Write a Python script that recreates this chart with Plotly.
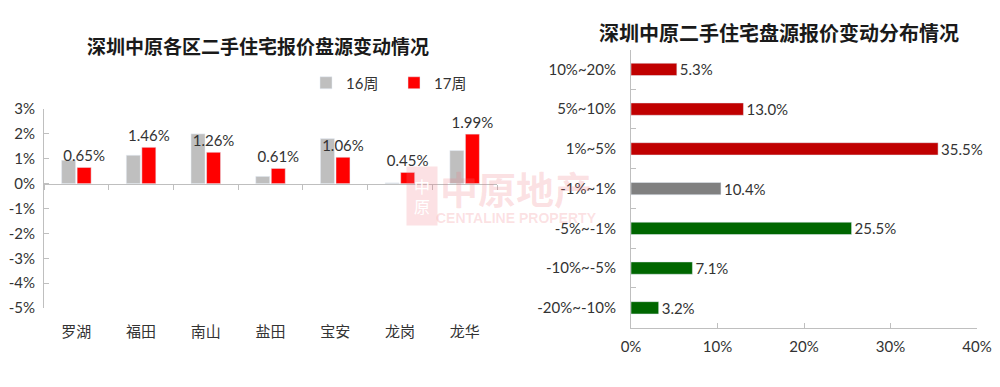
import plotly.graph_objects as go

# Left chart data
districts = ["罗湖", "福田", "南山", "盐田", "宝安", "龙岗", "龙华"]
week16 = [0.94, 1.14, 2.00, 0.29, 1.81, 0.03, 1.33]
week17 = [0.65, 1.46, 1.26, 0.61, 1.06, 0.45, 1.99]
left_ticks = [-5, -4, -3, -2, -1, 0, 1, 2, 3]

# Right chart data
ranges = ["10%~20%", "5%~10%", "1%~5%", "-1%~1%", "-5%~-1%", "-10%~-5%", "-20%~-10%"]
shares = [5.3, 13.0, 35.5, 10.4, 25.5, 7.1, 3.2]
range_colors = ["#C00000", "#C00000", "#C00000", "#808080", "#006600", "#006600", "#006600"]
right_ticks = [0, 10, 20, 30, 40]

FONT = "Century Gothic, Lato, Noto Sans CJK SC, sans-serif"
CJK = "Noto Sans CJK SC, sans-serif"
AX = "#BFBFBF"
TXT = "#333333"

# page body has an 8px margin: convert target pixel positions into paper fractions
W, H, OFF = 1000, 387, 8
def px(x):
    return (x - OFF) / W
def py(y):
    return (H + OFF - y) / H

fig = go.Figure()

fig.add_trace(go.Bar(name="16周", x=districts, y=week16, marker_color="#BFBFBF",
                     xaxis="x", yaxis="y", hoverinfo="skip"))
fig.add_trace(go.Bar(name="17周", x=districts, y=week17, marker_color="#FF0000",
                     xaxis="x", yaxis="y", text=week17, texttemplate="%{y:.2f}%",
                     textposition="outside", cliponaxis=False, constraintext="none",
                     textfont=dict(family=FONT, size=15, color=TXT), hoverinfo="skip"))
# helper invisible trace for the zero-line category axis
fig.add_trace(go.Scatter(x=districts, y=[0] * len(districts), xaxis="x3", yaxis="y",
                         mode="lines", line=dict(width=0), opacity=0,
                         showlegend=False, hoverinfo="skip"))

fig.add_trace(go.Bar(x=shares, y=ranges, orientation="h", marker_color=range_colors,
                     xaxis="x2", yaxis="y2", text=shares, texttemplate="%{x:.1f}%",
                     textposition="outside", cliponaxis=False, constraintext="none",
                     showlegend=False, width=0.31,
                     textfont=dict(family=FONT, size=15, color=TXT), hoverinfo="skip"))

ydom = [py(308), py(109)]
zero_pos = ydom[0] + (0 - left_ticks[0]) / (left_ticks[-1] - left_ticks[0]) * (ydom[1] - ydom[0])

fig.update_layout(
    width=W, height=H,
    margin=dict(l=0, r=0, t=0, b=0, autoexpand=False),
    paper_bgcolor="white", plot_bgcolor="rgba(0,0,0,0)",
    barmode="group", bargap=0.52, bargroupgap=0.1,
    font=dict(family=FONT, color=TXT),
    showlegend=True,
    legend=dict(orientation="h", x=px(306), y=py(83), xanchor="left", yanchor="middle",
                entrywidth=43, entrywidthmode="pixels",
                font=dict(family=FONT, size=15, color=TXT), bgcolor="rgba(0,0,0,0)"),
    xaxis=dict(domain=[px(44), px(497)], anchor="y", type="category", automargin=False,
               showline=False, ticks="", showgrid=False,
               tickfont=dict(family=CJK, size=15, color=TXT), ticklabelstandoff=13),
    xaxis3=dict(domain=[px(44), px(497)], anchor="free", overlaying="x", position=zero_pos,
                type="category", showline=True, linecolor=AX, linewidth=1, automargin=False,
                ticks="outside", tickson="boundaries", ticklen=5, tickcolor=AX,
                showticklabels=False, showgrid=False, matches="x"),
    yaxis=dict(domain=ydom, anchor="x", range=[left_ticks[0], left_ticks[-1]], automargin=False,
               tickvals=left_ticks, ticktext=[f"{v}%" for v in left_ticks],
               showline=True, linecolor=AX,
               ticks="inside", ticklen=5, tickcolor=AX, showgrid=False, zeroline=False,
               tickfont=dict(family=FONT, size=15, color=TXT), ticklabelstandoff=5),
    xaxis2=dict(domain=[px(631), px(977)], anchor="y2", range=[right_ticks[0], right_ticks[-1]],
                automargin=False,
                tickvals=right_ticks, ticktext=[f"{v}%" for v in right_ticks],
                showline=True, linecolor=AX,
                ticks="inside", ticklen=5, tickcolor=AX, showgrid=False, zeroline=False,
                tickfont=dict(family=FONT, size=15, color=TXT), ticklabelstandoff=5),
    yaxis2=dict(domain=[py(327.7), py(49.5)], anchor="x2", type="category", automargin=False,
                categoryorder="array", categoryarray=ranges[::-1],
                showline=True, linecolor=AX, ticks="inside", tickson="boundaries",
                ticklen=5, tickcolor=AX, showgrid=False,
                tickfont=dict(family=FONT, size=15, color=TXT), ticklabelstandoff=11),
)

fig.add_annotation(text="深圳中原各区二手住宅报价盘源变动情况", xref="paper", yref="paper",
                   x=px(257.5), y=py(45), xanchor="center", yanchor="middle",
                   showarrow=False, font=dict(family=CJK, size=19, color="#1a1a1a", weight=600))
fig.add_annotation(text="深圳中原二手住宅盘源报价变动分布情况", xref="paper", yref="paper",
                   x=px(779), y=py(32), xanchor="center", yanchor="middle",
                   showarrow=False, font=dict(family=CJK, size=20, color="#1a1a1a", weight=600))

# watermark
WM = "rgba(240,120,130,0.22)"
fig.add_annotation(text="中<br>原", xref="paper", yref="paper", x=px(421.5), y=py(196),
                   xanchor="center", yanchor="middle", showarrow=False,
                   bgcolor=WM, borderpad=4, width=22, height=50,
                   font=dict(family=CJK, size=16, color="white"))
fig.add_annotation(text="<b>中原地产</b>", xref="paper", yref="paper", x=px(516), y=py(187),
                   xanchor="center", yanchor="middle", showarrow=False,
                   font=dict(family=CJK, size=38, color=WM))
fig.add_annotation(text="<b>CENTALINE PROPERTY</b>", xref="paper", yref="paper", x=px(516), y=py(218),
                   xanchor="center", yanchor="middle", showarrow=False,
                   font=dict(family="Liberation Sans, Arial", size=14, color=WM))

fig.write_html("out.html")
